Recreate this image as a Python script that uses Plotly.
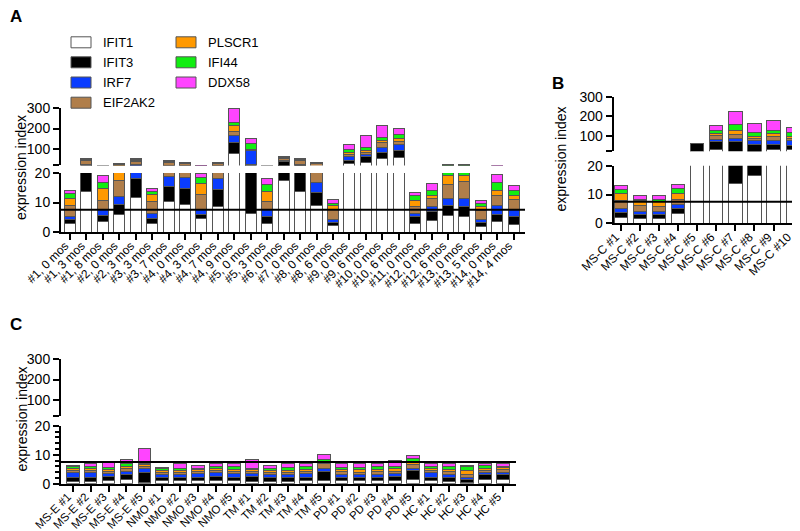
import plotly.graph_objects as go

W, H = 800, 531
GENES = ["IFIT1", "IFIT3", "IRF7", "EIF2AK2", "PLSCR1", "IFI44", "DDX58"]
COLORS = ["#FFFFFF", "#000000", "#0A3CFF", "#B07E4A", "#FF9900", "#11EE11", "#FF44FF"]
THRESHOLD = 7.5

# ---------------- Panel A ----------------
A_LABELS = ["#1, 0 mos", "#1, 3 mos", "#1, 8 mos", "#2, 0 mos", "#2, 3 mos", "#3, 3 mos",
            "#3, 7 mos", "#4, 0 mos", "#4, 3 mos", "#4, 7 mos", "#4, 9 mos", "#5, 0 mos",
            "#5, 3 mos", "#6, 0 mos", "#7, 0 mos", "#8, 0 mos", "#8, 6 mos", "#9, 0 mos",
            "#9, 6 mos", "#10, 0 mos", "#10, 6 mos", "#11, 0 mos", "#12, 0 mos", "#12, 6 mos",
            "#13, 0 mos", "#13, 5 mos", "#14, 0 mos", "#14, 4 mos"]
A_IFIT1 = [2.8, 13.8, 3.6, 5.9, 11.75, 3.05, 10.4, 9.3, 4.5, 8.7, 77.2, 6.4, 3.05, 17.5,
           13.8, 8.9, 2.3, 27, 36.6, 52.8, 59.4, 2.8, 4.0, 5.65, 5.3, 1.9, 3.6, 2.5]
A_IFIT3 = [1.4, 9.5, 1.9, 3.4, 6.35, 1.45, 4.9, 5.3, 1.6, 5.65, 55.3, 17.2, 2.05, 22.5,
           8, 4.5, 1.0, 19, 24.4, 31, 32.5, 2.5, 2.8, 3.35, 3.4, 1.4, 2.3, 2.6]
A_IRF7 = [1.1, 3.5, 2.1, 2.6, 5, 1.7, 3.6, 4.0, 1.5, 3.65, 34.2, 70.4, 2.5, 4,
          3, 3.4, 1.1, 16, 12, 24.4, 29.1, 1.1, 1.9, 2.2, 2.8, 1.1, 3.1, 2.5]
A_EIF2AK2 = [3.7, 16, 3.1, 5.6, 18, 4.0, 14, 10, 5.1, 12, 19.5, 1.5, 2.6, 8,
             18, 12, 3.2, 13, 10, 21.1, 15, 2.3, 2.8, 4.8, 5.5, 2.9, 3.3, 3.4]
A_PLSCR1 = [2.5, 3, 4.2, 5, 4, 2.5, 3.5, 2.5, 3.7, 2.5, 27.6, 1.2, 3.6, 3,
            3, 2.5, 1.3, 10, 10, 13, 14.4, 2.0, 0.9, 3.1, 2.1, 1.4, 1.8, 1.3]
A_IFI44 = [1.5, 2.5, 2.0, 3, 3, 1.0, 3, 2, 2.2, 2, 17.9, 29.3, 2.2, 3,
           3, 2, 0.9, 13, 12, 14.7, 19.5, 1.6, 1.7, 2, 2, 1.1, 2.7, 1.8]
A_DDX58 = [1.1, 4.4, 2.2, 4.5, 8, 0.9, 3.6, 2, 1.3, 2.1, 65, 24.4, 2.0, 3,
           4, 1.7, 1.2, 23, 61.7, 56.8, 29.3, 1.1, 2.5, 1.9, 1.9, 0.9, 2.8, 1.6]

# ---------------- Panel B ----------------
B_LABELS = ["MS-C #1", "MS-C #2", "MS-C #3", "MS-C #4", "MS-C #5", "MS-C #6",
            "MS-C #7", "MS-C #8", "MS-C #9", "MS-C #10"]
B_IFIT1 = [2.1, 1.5, 1.6, 3.4, 20.5, 28.6, 13.8, 16.6, 28.6, 28.6]
B_IFIT3 = [1.8, 1.5, 1.4, 1.6, 37, 39.7, 57.9, 37.9, 25.9, 22.4]
B_IRF7 = [1.2, 1.2, 1.1, 1.5, 0.5, 12, 12.1, 20.7, 22.4, 25.9]
B_EIF2AK2 = [2.9, 2.0, 1.8, 1.9, 0.5, 20.7, 22.4, 12, 20.7, 10]
B_PLSCR1 = [2.4, 1.7, 1.7, 2.1, 0.4, 8.7, 22.4, 10.4, 12.1, 7.2]
B_IFI44 = [1.5, 0.3, 0.7, 1.5, 0.4, 17.2, 29.3, 17.2, 18.9, 20.7]
B_DDX58 = [1.3, 1.3, 1.2, 1.4, 0.4, 25.9, 65.5, 48.3, 51.7, 25.9]

# ---------------- Panel C ----------------
C_LABELS = ["MS-E #1", "MS-E #2", "MS-E #3", "MS-E #4", "MS-E #5",
            "NMO #1", "NMO #2", "NMO #3", "NMO #4", "NMO #5",
            "TM #1", "TM #2", "TM #3", "TM #4", "TM #5",
            "PD #1", "PD #2", "PD #3", "PD #4", "PD #5",
            "HC #1", "HC #2", "HC #3", "HC #4", "HC #5"]
C_IFIT1 = [0.8, 0.8, 1.1, 1.6, 0.3, 1.1, 1.1, 1.1, 1.1, 1.0, 0.8, 0.7, 0.8,
           1.1, 1.1, 1.1, 1.1, 1.0, 1.1, 1.4, 1.1, 0.8, 0.5, 1.4, 1.6]
C_IFIT3 = [1.5, 1.5, 1.4, 1.5, 3.7, 1.2, 1.2, 1.2, 1.4, 1.3, 1.7, 1.3, 1.3,
           1.2, 3.2, 1.2, 1.2, 1.3, 1.4, 3.1, 0.9, 1.5, 1.1, 1.7, 1.5]
C_IRF7 = [1.4, 1.4, 0.9, 1.2, 1.2, 1.0, 1.0, 1.1, 1.2, 1.2, 0.9, 1.1, 1.1,
          1.1, 1.1, 0.8, 0.9, 1.0, 0.9, 0.9, 1.7, 1.0, 0.7, 0.6, 0.6]
C_EIF2AK2 = [0.9, 0.9, 0.9, 1.0, 0.8, 0.6, 0.7, 0.7, 0.7, 0.8, 0.8, 0.8, 0.8,
             0.9, 1.5, 1.2, 0.8, 0.9, 0.9, 1.2, 0.9, 0.8, 0.8, 0.9, 1.1]
C_PLSCR1 = [0.5, 0.5, 0.5, 0.7, 0.6, 0.6, 0.6, 0.7, 0.7, 0.7, 0.6, 0.7, 0.7,
            0.7, 0.5, 0.5, 0.9, 0.8, 0.8, 1.1, 0.5, 0.9, 1.4, 0.8, 0.9]
C_IFI44 = [0.9, 0.9, 0.9, 1.1, 0.5, 0.7, 0.8, 0.6, 0.9, 1.0, 0.6, 0.8, 0.9,
           0.9, 0.9, 0.8, 0.8, 0.8, 0.9, 0.9, 0.9, 1.1, 1.3, 0.8, 0.4]
C_DDX58 = [0.4, 0.9, 2.0, 1.4, 5.2, 0.5, 1.5, 0.9, 0.9, 0.9, 2.9, 0.9, 1.2,
           0.9, 1.7, 1.3, 1.1, 1.0, 1.9, 1.2, 0.8, 0.7, 0.4, 0.6, 0.7]

Y_LOW_TICKS = [0, 10, 20]
Y_UP_TICKS = [20, 100, 200, 300]
Y_UP_TEXT = ["", "100", "200", "300"]

FONT = "Liberation Sans, Arial, Helvetica, sans-serif"


def fx(p):
    return p / W


def fy(p):
    return 1 - p / H


panels = [
    dict(labels=A_LABELS,
         series=[A_IFIT1, A_IFIT3, A_IRF7, A_EIF2AK2, A_PLSCR1, A_IFI44, A_DDX58],
         n=("", "2"), xdom=(53, 517), low=(224, 165), up=(157.4, 100),
         xr=[-0.55, 27.69], bw=0.67, minor=False, lab=12),
    dict(labels=B_LABELS,
         series=[B_IFIT1, B_IFIT3, B_IRF7, B_EIF2AK2, B_PLSCR1, B_IFI44, B_DDX58],
         n=("3", "4"), xdom=(605.7, 795), low=(215.3, 157.7), up=(143.2, 89),
         xr=[-0.37, 9.54], bw=0.70, minor=False, lab=12),
    dict(labels=C_LABELS,
         series=[C_IFIT1, C_IFIT3, C_IRF7, C_EIF2AK2, C_PLSCR1, C_IFI44, C_DDX58],
         n=("5", "6"), xdom=(53, 508), low=(475.7, 417.7), up=(408.4, 351),
         xr=[-0.65, 24.73], bw=0.71, minor=True, lab=11.5),
]

fig = go.Figure()
layout = dict(
    width=W, height=H, template="none",
    margin=dict(l=0, r=0, t=0, b=0),
    paper_bgcolor="white", plot_bgcolor="rgba(0,0,0,0)",
    barmode="stack", showlegend=False,
    font=dict(family=FONT, size=13, color="black"),
)
shapes = []
annotations = []

axis_common = dict(showline=True, linewidth=2, linecolor="black", ticks="outside",
                   tickwidth=2, tickcolor="black", ticklen=6, showgrid=False,
                   zeroline=False, automargin=False)

for p in panels:
    lo, hi = p["n"]
    for suffix in (lo, hi):
        for gi, gene in enumerate(GENES):
            fig.add_trace(go.Bar(
                x=p["labels"], y=p["series"][gi], name=gene,
                marker=dict(color=COLORS[gi], line=dict(color="#555555", width=1)),
                width=p["bw"], xaxis="x" + suffix, yaxis="y" + suffix,
                hoverinfo="x+y+name"))
    xd = [fx(p["xdom"][0]), fx(p["xdom"][1])]
    layout["xaxis" + lo] = dict(axis_common, domain=xd, range=p["xr"], anchor="y" + lo,
                                type="category", tickangle=-45,
                                ticklabelshift=-5, ticklabelstandoff=-6,
                                tickfont=dict(size=p["lab"], family=FONT))
    layout["xaxis" + hi] = dict(domain=xd, range=p["xr"], anchor="y" + hi,
                                type="category", visible=False)
    ylo = dict(axis_common, domain=[fy(p["low"][0]), fy(p["low"][1])], range=[0, 20],
               anchor="x" + lo, tickvals=Y_LOW_TICKS, tickfont=dict(size=14, family=FONT))
    if p["minor"]:
        ylo["minor"] = dict(dtick=2, ticks="outside", ticklen=4, tickwidth=1.5,
                            tickcolor="black", showgrid=False)
    layout["yaxis" + lo] = ylo
    layout["yaxis" + hi] = dict(axis_common, domain=[fy(p["up"][0]), fy(p["up"][1])],
                                range=[20, 300], anchor="x" + hi, tickvals=Y_UP_TICKS,
                                ticktext=Y_UP_TEXT, tickfont=dict(size=14, family=FONT))
    xref = ("x" + lo) + " domain" if lo else "x domain"
    shapes.append(dict(type="line", xref=xref, yref="y" + lo, x0=0, x1=1,
                       y0=THRESHOLD, y1=THRESHOLD, line=dict(color="black", width=2)))

# y-axis titles
for (cx, cy) in ((13, 160), (552.5, 151), (13.5, 411)):
    annotations.append(dict(text="expression index", x=fx(cx), y=fy(cy), xref="paper",
                            yref="paper", textangle=-90, showarrow=False,
                            xanchor="center", yanchor="middle",
                            font=dict(size=14, family=FONT)))

# panel letters
for (t, cx, cy) in (("A", 7.5, 8.7), ("B", 550, 76), ("C", 8, 316)):
    annotations.append(dict(text="<b>%s</b>" % t, x=fx(cx), y=fy(cy), xref="paper",
                            yref="paper", showarrow=False, xanchor="center",
                            yanchor="middle", font=dict(size=17, family=FONT)))

# legend (two columns)
leg_pos = [(63, 34.3), (63, 54.3), (63, 74.5), (63, 94.7),
           (168, 34.3), (168, 54.3), (168, 74.5)]
for gi, gene in enumerate(GENES):
    lx, ly = leg_pos[gi]
    shapes.append(dict(type="rect", xref="paper", yref="paper",
                       x0=fx(lx), x1=fx(lx + 20), y0=fy(ly + 5.5), y1=fy(ly - 5.5),
                       fillcolor=COLORS[gi], line=dict(color="#555555", width=1)))
    annotations.append(dict(text=gene, x=fx(lx + 30), y=fy(ly), xref="paper",
                            yref="paper", showarrow=False, xanchor="left",
                            yanchor="middle", font=dict(size=13, family=FONT)))

layout["shapes"] = shapes
layout["annotations"] = annotations
fig.update_layout(**layout)
fig.write_html("out.html")
